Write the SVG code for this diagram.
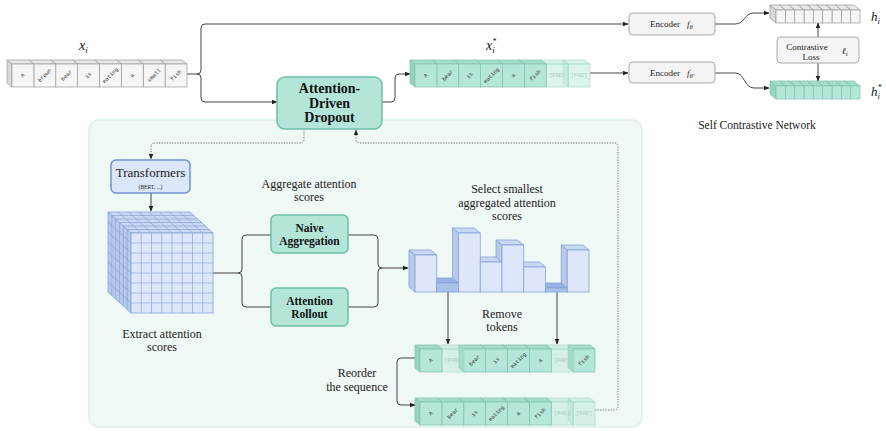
<svg xmlns="http://www.w3.org/2000/svg" xmlns:xlink="http://www.w3.org/1999/xlink" width="886" height="431" viewBox="0 0 886 431">
<style>
.ln{fill:none;stroke:#444;stroke-width:1}
.dt{fill:none;stroke:#777;stroke-width:1;stroke-dasharray:1.3 1.3}
.lbl{font-family:"Liberation Serif","Times New Roman","DejaVu Serif",serif;font-size:12px;fill:#222;text-anchor:middle}
.sm{font-family:"Liberation Serif","Times New Roman","DejaVu Serif",serif;font-size:9px;fill:#222}
.bd{font-family:"Liberation Serif","Times New Roman","DejaVu Serif",serif;font-weight:bold;fill:#111;text-anchor:middle}
.math{font-family:"Liberation Serif","Times New Roman","DejaVu Serif",serif;font-style:italic;fill:#111}
.tok{font-family:"Liberation Mono","DejaVu Sans Mono",monospace;font-size:5.5px;fill:#333;text-anchor:middle;dominant-baseline:central}
.pad{fill:#a9cac2}
.gs{fill:#95d3c1;stroke:#7fc2ae;stroke-width:.7}
.gt{fill:#a5dccd;stroke:#7fc2ae;stroke-width:.7}
.gf{fill:#b4e6d9;stroke:#7fc2ae;stroke-width:.7}
.ps{fill:#95d3c1;fill-opacity:.35;stroke:#a9dccf;stroke-width:.7}
.pt{fill:#a5dccd;fill-opacity:.4;stroke:#a9dccf;stroke-width:.7}
.pf{fill:#b4e6d9;fill-opacity:.45;stroke:#a9dccf;stroke-width:.7}
.ws{fill:#d9d9d9;stroke:#9a9a9a;stroke-width:.7}
.wt{fill:#e8e8e8;stroke:#9a9a9a;stroke-width:.7}
.wf{fill:#f5f5f5;stroke:#9a9a9a;stroke-width:.7}
.bs{fill:#b9c9ea;stroke:#86a2d8;stroke-width:.8}
.bt{fill:#c9d7f1;stroke:#86a2d8;stroke-width:.8}
.bf{fill:#dde7f9;stroke:#86a2d8;stroke-width:.8}
.ds{fill:#8eaadf;stroke:#86a2d8;stroke-width:.8}
.dtp{fill:#98b3e3;stroke:#86a2d8;stroke-width:.8}
.df{fill:#a9c2ec;stroke:#86a2d8;stroke-width:.8}
.gbox{fill:#b3e6d9;stroke:#6cbfa8;stroke-width:1.5}
.ebox{fill:#f4f4f4;stroke:#a8a8a8;stroke-width:1}
.grid{fill:none;stroke:#7e9cd5;stroke-width:.6}
</style>
<defs>
<marker id="ah" viewBox="0 0 10 10" refX="9" refY="5" markerWidth="6" markerHeight="6" markerUnits="userSpaceOnUse" orient="auto"><path d="M0,1 L10,5 L0,9 z" fill="#222"/></marker>
<g id="gc"><polygon class="gs" points="0,0 -5,-4 -5,19 0,23"/><polygon class="gt" points="0,0 21.875,0 16.875,-4 -5,-4"/><rect class="gf" width="21.875" height="23"/></g>
<g id="pc"><polygon class="ps" points="0,0 -5,-4 -5,19 0,23"/><polygon class="pt" points="0,0 21.875,0 16.875,-4 -5,-4"/><rect class="pf" width="21.875" height="23"/></g>
<g id="wc"><polygon class="ws" points="0,0 -5,-4 -5,19 0,23"/><polygon class="wt" points="0,0 21.875,0 16.875,-4 -5,-4"/><rect class="wf" width="21.875" height="23"/></g>
<g id="hw"><polygon class="ws" points="0,0 -6,-5 -6,8 0,13"/><polygon class="wt" points="0,0 9.333,0 3.333,-5 -6,-5"/><rect class="wf" width="9.333" height="13"/></g>
<g id="hg"><polygon class="gs" points="0,0 -6,-5 -6,8 0,13"/><polygon class="gt" points="0,0 9.333,0 3.333,-5 -6,-5"/><rect class="gf" width="9.333" height="13"/></g>
</defs>

<rect id="panel" x="89" y="120" width="553" height="307" rx="10" fill="#eef8f4" stroke="#ddefe9" stroke-width="1.5"/>

<g id="connectors">
<path class="ln" d="M187,74 H197 q4,0 4,-4 V28 q0,-4 4,-4 H628" marker-end="url(#ah)"/>
<path class="ln" d="M197,74 q4,0 4,4 V98 q0,4 4,4 H277" marker-end="url(#ah)"/>
<path class="ln" d="M382,102 H391 q4,0 4,-4 V78 q0,-4 4,-4 H410" marker-end="url(#ah)"/>
<path class="ln" d="M590,73 H628" marker-end="url(#ah)"/>
<path class="ln" d="M715,24 H735 C745,24 744,13 754,13 H769" marker-end="url(#ah)"/>
<path class="ln" d="M715,73 H735 C745,73 744,88 754,88 H769" marker-end="url(#ah)"/>
<path class="ln" d="M818,37 V23" marker-end="url(#ah)"/>
<path class="ln" d="M818,63 V81" marker-end="url(#ah)"/>
<path class="dt" d="M304,129 V139 q0,4 -4,4 H155 q-4,0 -4,4 V159" marker-end="url(#ah)"/>
<path class="dt" d="M595,410 H614 q4,0 4,-4 V147 q0,-4 -4,-4 H360 q-4,0 -4,-4 V130" marker-end="url(#ah)"/>
<path class="ln" d="M151,193 V211" marker-end="url(#ah)"/>
<path class="ln" d="M213,273 H238 q4,0 4,-4 V239 q0,-4 4,-4 H271"/>
<path class="ln" d="M238,273 q4,0 4,4 V303 q0,4 4,4 H271"/>
<path class="ln" d="M348,235 H374 q4,0 4,4 V264 q0,4 4,4 H408" marker-end="url(#ah)"/>
<path class="ln" d="M348,307 H374 q4,0 4,-4 V272 q0,-4 4,-4"/>
<path class="ln" d="M448,292 V344" marker-end="url(#ah)"/>
<path class="ln" d="M557,292 V344" marker-end="url(#ah)"/>
<path class="ln" d="M415,358 H401 q-4,0 -4,4 V401 q0,4 4,4 H415" marker-end="url(#ah)"/>
</g>

<g id="input-xi">
<use href="#wc" x="165.125" y="64"/><use href="#wc" x="143.25" y="64"/><use href="#wc" x="121.375" y="64"/><use href="#wc" x="99.5" y="64"/><use href="#wc" x="77.625" y="64"/><use href="#wc" x="55.75" y="64"/><use href="#wc" x="33.875" y="64"/><use href="#wc" x="12" y="64"/>
<text class="tok" transform="translate(22.94,75.5) rotate(-45)">A</text>
<text class="tok" transform="translate(44.81,75.5) rotate(-45)">brown</text>
<text class="tok" transform="translate(66.69,75.5) rotate(-45)">bear</text>
<text class="tok" transform="translate(88.56,75.5) rotate(-45)">is</text>
<text class="tok" transform="translate(110.44,75.5) rotate(-45)">eating</text>
<text class="tok" transform="translate(132.31,75.5) rotate(-45)">a</text>
<text class="tok" transform="translate(154.19,75.5) rotate(-45)">small</text>
<text class="tok" transform="translate(176.06,75.5) rotate(-45)">fish</text>
<text class="math" x="79" y="50" font-size="14">x<tspan font-size="9" dy="3">i</tspan></text>
</g>

<g id="output-xi-star">
<use href="#pc" x="568.125" y="64"/><use href="#pc" x="546.25" y="64"/><use href="#gc" x="524.375" y="64"/><use href="#gc" x="502.5" y="64"/><use href="#gc" x="480.625" y="64"/><use href="#gc" x="458.75" y="64"/><use href="#gc" x="436.875" y="64"/><use href="#gc" x="415" y="64"/>
<text class="tok" transform="translate(425.94,75.5) rotate(-45)">A</text>
<text class="tok" transform="translate(447.81,75.5) rotate(-45)">bear</text>
<text class="tok" transform="translate(469.69,75.5) rotate(-45)">is</text>
<text class="tok" transform="translate(491.56,75.5) rotate(-45)">eating</text>
<text class="tok" transform="translate(513.44,75.5) rotate(-45)">a</text>
<text class="tok" transform="translate(535.31,75.5) rotate(-45)">fish</text>
<text class="tok pad" x="557.19" y="75.5">[PAD]</text>
<text class="tok pad" x="579.06" y="75.5">[PAD]</text>
<text class="math" x="486" y="50" font-size="14">x<tspan font-size="8" dy="-6">*</tspan><tspan font-size="9" dx="-4" dy="9">i</tspan></text>
</g>

<g id="dropout">
<rect class="gbox" x="277" y="77" width="105" height="52" rx="8"/>
<text class="bd" font-size="14" x="329.5" y="93">Attention-</text>
<text class="bd" font-size="14" x="329.5" y="107.5">Driven</text>
<text class="bd" font-size="14" x="329.5" y="122">Dropout</text>
</g>

<g id="encoder1">
<rect class="ebox" x="629" y="13" width="86" height="22" rx="4"/>
<text class="sm" x="650" y="27">Encoder<tspan dx="7" font-style="italic">f</tspan><tspan font-size="6.5" font-style="italic" dy="2">θ</tspan></text>
</g>
<g id="encoder2">
<rect class="ebox" x="629" y="62" width="86" height="21" rx="4"/>
<text class="sm" x="650" y="75.5">Encoder<tspan dx="7" font-style="italic">f</tspan><tspan font-size="6.5" font-style="italic" dy="2">θ'</tspan></text>
</g>

<g id="hi">
<use href="#hw" x="850.67" y="10"/><use href="#hw" x="841.33" y="10"/><use href="#hw" x="832" y="10"/><use href="#hw" x="822.67" y="10"/><use href="#hw" x="813.33" y="10"/><use href="#hw" x="804" y="10"/><use href="#hw" x="794.67" y="10"/><use href="#hw" x="785.33" y="10"/><use href="#hw" x="776" y="10"/>
<text class="math" x="871" y="21" font-size="13">h<tspan font-size="8.5" dy="3">i</tspan></text>
</g>
<g id="hi-star">
<use href="#hg" x="850.67" y="86"/><use href="#hg" x="841.33" y="86"/><use href="#hg" x="832" y="86"/><use href="#hg" x="822.67" y="86"/><use href="#hg" x="813.33" y="86"/><use href="#hg" x="804" y="86"/><use href="#hg" x="794.67" y="86"/><use href="#hg" x="785.33" y="86"/><use href="#hg" x="776" y="86"/>
<text class="math" x="871" y="96" font-size="13">h<tspan font-size="8" dy="-6">*</tspan><tspan font-size="8.5" dx="-4" dy="9">i</tspan></text>
</g>

<g id="contrastive-loss">
<rect class="ebox" x="777" y="37" width="82" height="26" rx="4"/>
<text class="sm" x="807" y="49.5" text-anchor="middle">Contrastive</text>
<text class="sm" x="811" y="59.5" text-anchor="middle">Loss</text>
<text x="842" y="54" font-family="'DejaVu Serif',serif" font-style="italic" font-size="9" fill="#111">ℓ<tspan font-size="6" dy="2">i</tspan></text>
</g>

<text class="lbl" x="757" y="129" style="font-size:11.5px">Self Contrastive Network</text>

<g id="transformers">
<rect x="111" y="160" width="79" height="33" rx="5" fill="#dbe6f8" stroke="#7393d0" stroke-width="1.5"/>
<text class="lbl" x="150.5" y="176.5" style="font-size:13px">Transformers</text>
<text class="lbl" x="150.5" y="188.5" style="font-size:5.5px">(BERT, ...)</text>
</g>

<g id="attention-cube">
<polygon class="bs" points="131,233 108,212 108,292 131,313"/>
<polygon class="bt" points="131,233 213,233 190,212 108,212"/>
<rect class="bf" x="131" y="233" width="82" height="80"/>
<path class="grid" d="M141.25,233V313M151.5,233V313M161.75,233V313M172,233V313M182.25,233V313M192.5,233V313M202.75,233V313M131,243H213M131,253H213M131,263H213M131,273H213M131,283H213M131,293H213M131,303H213"/>
<path class="grid" d="M141.25,233L118.25,212M151.5,233L128.5,212M161.75,233L138.75,212M172,233L149,212M182.25,233L159.25,212M192.5,233L169.5,212M202.75,233L179.75,212M127.17,229.5H209.17M123.33,226H205.33M119.5,222.5H201.5M115.67,219H197.67M111.83,215.5H193.83"/>
<path class="grid" d="M131,243L108,222M131,253L108,232M131,263L108,242M131,273L108,252M131,283L108,262M131,293L108,272M131,303L108,282M127.17,229.5V309.5M123.33,226V306M119.5,222.5V302.5M115.67,219V299M111.83,215.5V295.5"/>
</g>
<text class="lbl" x="162" y="338">Extract attention</text>
<text class="lbl" x="162" y="351">scores</text>

<text class="lbl" x="309" y="188">Aggregate attention</text>
<text class="lbl" x="309" y="201">scores</text>

<g id="naive-aggregation">
<rect class="gbox" x="271" y="215" width="77" height="38" rx="5" stroke-width="1.2"/>
<text class="bd" font-size="11.5" x="309.5" y="232">Naive</text>
<text class="bd" font-size="11.5" x="309.5" y="245">Aggregation</text>
</g>
<g id="attention-rollout">
<rect class="gbox" x="271" y="288" width="77" height="38" rx="5" stroke-width="1.2"/>
<text class="bd" font-size="11.5" x="309.5" y="305">Attention</text>
<text class="bd" font-size="11.5" x="309.5" y="318">Rollout</text>
</g>

<text class="lbl" x="507" y="193">Select smallest</text>
<text class="lbl" x="507" y="207">aggregated attention</text>
<text class="lbl" x="507" y="220">scores</text>

<g id="bar-chart">
<polygon class="bs" points="415,255 409,250 409,287 415,292"/>
<polygon class="ds" points="436.75,283 430.75,278 430.75,287 436.75,292"/>
<polygon class="bs" points="458.5,233 452.5,228 452.5,287 458.5,292"/>
<polygon class="bs" points="480.25,262 474.25,257 474.25,287 480.25,292"/>
<polygon class="bs" points="502,245 496,240 496,287 502,292"/>
<polygon class="bs" points="523.75,267 517.75,262 517.75,287 523.75,292"/>
<polygon class="ds" points="545.5,288 539.5,283 539.5,287 545.5,292"/>
<polygon class="bs" points="567.25,250 561.25,245 561.25,287 567.25,292"/>
<polygon class="bt" points="415,255 436.75,255 430.75,250 409,250"/>
<polygon class="dtp" points="436.75,283 458.5,283 452.5,278 430.75,278"/>
<polygon class="bt" points="458.5,233 480.25,233 474.25,228 452.5,228"/>
<polygon class="bt" points="480.25,262 502,262 496,257 474.25,257"/>
<polygon class="bt" points="502,245 523.75,245 517.75,240 496,240"/>
<polygon class="bt" points="523.75,267 545.5,267 539.5,262 517.75,262"/>
<polygon class="dtp" points="545.5,288 567.25,288 561.25,283 539.5,283"/>
<polygon class="bt" points="567.25,250 589,250 583,245 561.25,245"/>
<rect class="bf" x="415" y="255" width="21.75" height="37"/>
<rect class="df" x="436.75" y="283" width="21.75" height="9"/>
<rect class="bf" x="458.5" y="233" width="21.75" height="59"/>
<rect class="bf" x="480.25" y="262" width="21.75" height="30"/>
<rect class="bf" x="502" y="245" width="21.75" height="47"/>
<rect class="bf" x="523.75" y="267" width="21.75" height="25"/>
<rect class="df" x="545.5" y="288" width="21.75" height="4"/>
<rect class="bf" x="567.25" y="250" width="21.75" height="42"/>
</g>

<text class="lbl" x="502" y="318">Remove</text>
<text class="lbl" x="502" y="331">tokens</text>

<g id="removed-sequence">
<use href="#gc" x="573.125" y="349"/><use href="#pc" x="551.25" y="349"/><use href="#gc" x="529.375" y="349"/><use href="#gc" x="507.5" y="349"/><use href="#gc" x="485.625" y="349"/><use href="#gc" x="463.75" y="349"/><use href="#pc" x="441.875" y="349"/><use href="#gc" x="420" y="349"/>
<text class="tok" transform="translate(430.94,360.5) rotate(-45)">A</text>
<text class="tok pad" x="452.81" y="360.5">[PAD]</text>
<text class="tok" transform="translate(474.69,360.5) rotate(-45)">bear</text>
<text class="tok" transform="translate(496.56,360.5) rotate(-45)">is</text>
<text class="tok" transform="translate(518.44,360.5) rotate(-45)">eating</text>
<text class="tok" transform="translate(540.31,360.5) rotate(-45)">a</text>
<text class="tok pad" x="562.19" y="360.5">[PAD]</text>
<text class="tok" transform="translate(584.06,360.5) rotate(-45)">fish</text>
</g>

<text class="lbl" x="357" y="377">Reorder</text>
<text class="lbl" x="357" y="391">the sequence</text>

<g id="reordered-sequence">
<use href="#pc" x="573.125" y="402"/><use href="#pc" x="551.25" y="402"/><use href="#gc" x="529.375" y="402"/><use href="#gc" x="507.5" y="402"/><use href="#gc" x="485.625" y="402"/><use href="#gc" x="463.75" y="402"/><use href="#gc" x="441.875" y="402"/><use href="#gc" x="420" y="402"/>
<text class="tok" transform="translate(430.94,413.5) rotate(-45)">A</text>
<text class="tok" transform="translate(452.81,413.5) rotate(-45)">bear</text>
<text class="tok" transform="translate(474.69,413.5) rotate(-45)">is</text>
<text class="tok" transform="translate(496.56,413.5) rotate(-45)">eating</text>
<text class="tok" transform="translate(518.44,413.5) rotate(-45)">a</text>
<text class="tok" transform="translate(540.31,413.5) rotate(-45)">fish</text>
<text class="tok pad" x="562.19" y="413.5">[PAD]</text>
<text class="tok pad" x="584.06" y="413.5">[PAD]</text>
</g>
</svg>
